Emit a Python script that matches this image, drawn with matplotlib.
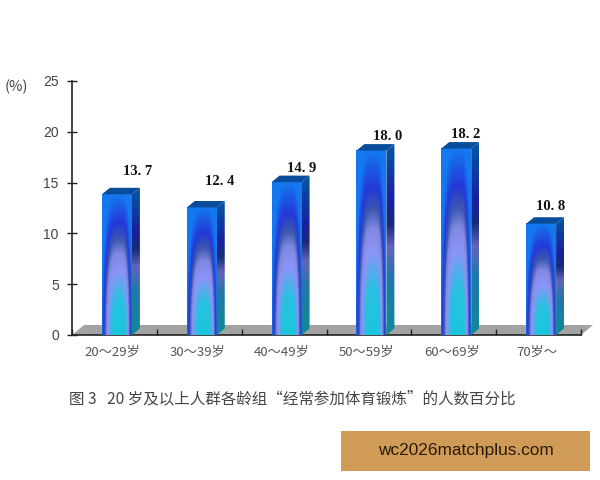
import numpy as np
import matplotlib
matplotlib.use('Agg')
import matplotlib.pyplot as plt
from matplotlib.colors import LinearSegmentedColormap
from matplotlib.patches import Polygon, Rectangle

categories = ['20～29岁', '30～39岁', '40～49岁', '50～59岁', '60～69岁', '70岁～']
values = [13.7, 12.4, 14.9, 18.0, 18.2, 10.8]
y_ticks = [0, 5, 10, 15, 20, 25]
caption = '图 3   20 岁及以上人群各龄组“经常参加体育锻炼”的人数百分比'
banner = 'wc2026matchplus.com'

W, H = 600, 480
LEFT, RIGHT, TOP, BOTTOM = 72, 581, 81, 335

plt.rcParams['font.family'] = ['Noto Sans CJK SC', 'DejaVu Sans']

front_cmap = LinearSegmentedColormap.from_list('front', [
    (0.00, '#18c8dc'), (0.25, '#28c0e0'), (0.45, '#8c94f8'), (0.58, '#8088e0'),
    (0.68, '#3c58b0'), (0.80, '#2438d8'), (1.00, '#1478f0')])
side_cmap = LinearSegmentedColormap.from_list('side', [
    (0.00, '#0e8a98'), (0.30, '#2078a8'), (0.46, '#6464b8'), (0.58, '#182a78'),
    (0.70, '#1820a0'), (1.00, '#0558a0')])


def front_gradient():
    # flat-centred shading, brightest at the bottom of the bar
    x = np.linspace(-1, 1, 60)
    y = np.linspace(1, 0, 200)
    xx, yy = np.meshgrid(x, y)
    dx = np.where(xx > 0.2, (xx - 0.2) / 0.8, (xx - 0.2) / 1.2)
    d = np.sqrt((0.95 * np.abs(dx) ** 1.8) ** 2 + yy ** 2)
    return np.clip(d, 0, 1)


fig = plt.figure(figsize=(W / 100, H / 100), dpi=100)
ax = fig.add_axes([LEFT / W, 1 - BOTTOM / H, (RIGHT - LEFT) / W, (BOTTOM - TOP) / H])
ax.set_xlim(0, len(categories))
ax.set_ylim(0, 25)

px = len(categories) / (RIGHT - LEFT)
py = 25 / (BOTTOM - TOP)
depth_x, depth_y = 8 * px, 6.5 * py
bar_w = 30 * px
bar_shift = 2.5 * px
top_extra = 0.15
label_dx = [21, 18, 15, 16, 9, 10]
label_dy = [24, 28, 15, 16, 16, 19]

# grey floor
ax.add_patch(Polygon([(0, 0), (12 * px, 10 * py), (6 + 12 * px, 10 * py), (6, 0)],
                     closed=True, fc='#a3a3a3', ec='none', clip_on=False, zorder=1))

xs = np.arange(len(categories)) + 0.5 + bar_shift
tops = np.array(values) + top_extra
bars = ax.bar(xs, tops, width=bar_w, color='none', zorder=3)

for bar, v in zip(bars, values):
    x0, x1 = bar.get_x(), bar.get_x() + bar.get_width()
    h = bar.get_height()
    ax.imshow(front_gradient(), cmap=front_cmap, vmin=0, vmax=1, aspect='auto',
              extent=(x0, x1, 0, h), zorder=3, interpolation='bilinear')
    side = np.linspace(1, 0, 200).reshape(-1, 1)
    im = ax.imshow(side, cmap=side_cmap, vmin=0, vmax=1, aspect='auto',
                   extent=(x1, x1 + depth_x, 0, h + depth_y), zorder=3,
                   interpolation='bilinear')
    clip = Polygon([(x1, 0), (x1 + depth_x, depth_y), (x1 + depth_x, h + depth_y), (x1, h)],
                   closed=True, transform=ax.transData)
    im.set_clip_path(clip)
    ax.add_patch(Polygon([(x0, h), (x0 + depth_x, h + depth_y), (x1 + depth_x, h + depth_y), (x1, h)],
                         closed=True, fc='#0a4c9c', ec='none', zorder=4))

ax.set_xlim(0, len(categories))
ax.set_ylim(0, 25)

for x, v, dx, dy in zip(xs, values, label_dx, label_dy):
    ax.annotate(f'{v:.1f}'.replace('.', '. '), (x, v), xytext=(dx * 0.72, dy * 0.72),
                textcoords='offset points', ha='center', va='center', fontsize=10.5,
                family='Liberation Serif', fontweight='bold', color='#111111',
                annotation_clip=False, zorder=5)

for s in ['top', 'right']:
    ax.spines[s].set_visible(False)
for s in ['left', 'bottom']:
    ax.spines[s].set_color('#222222')
    ax.spines[s].set_linewidth(1.2)
    ax.spines[s].set_zorder(2)

ax.set_yticks(y_ticks)
ax.set_yticklabels([str(t) for t in y_ticks], fontsize=10, color='#444444',
                   family='Liberation Sans')
ax.tick_params(axis='y', direction='inout', length=7, width=1, color='#222222', pad=6)
ax.set_xticks(np.arange(len(categories) + 1))
ax.set_xticklabels([''] * (len(categories) + 1))
ax.tick_params(axis='x', direction='in', length=4, width=1, color='#222222')

for i, c in enumerate(categories):
    ax.text(i + 0.5 - 2 * px, -17 * py, c, ha='center', va='center', fontsize=9.5,
            color='#555555', clip_on=False)

fig.text(16 / W, 1 - 87 / H, '(%)', ha='center', va='center', fontsize=10.5, color='#444444')
fig.text(69 / W, 1 - 399 / H, caption, ha='left', va='center', fontsize=11.2, color='#444444')

fig.add_artist(Rectangle((341 / W, 1 - 471 / H), 249 / W, 40 / H, transform=fig.transFigure,
                         fc='#cf9b56', ec='none'))
fig.text(465.5 / W, 1 - 451 / H, banner, ha='center', va='center', fontsize=12.4,
         color='#2a1a08', family='Liberation Sans', zorder=5)

fig.savefig('out.png', dpi=100)
